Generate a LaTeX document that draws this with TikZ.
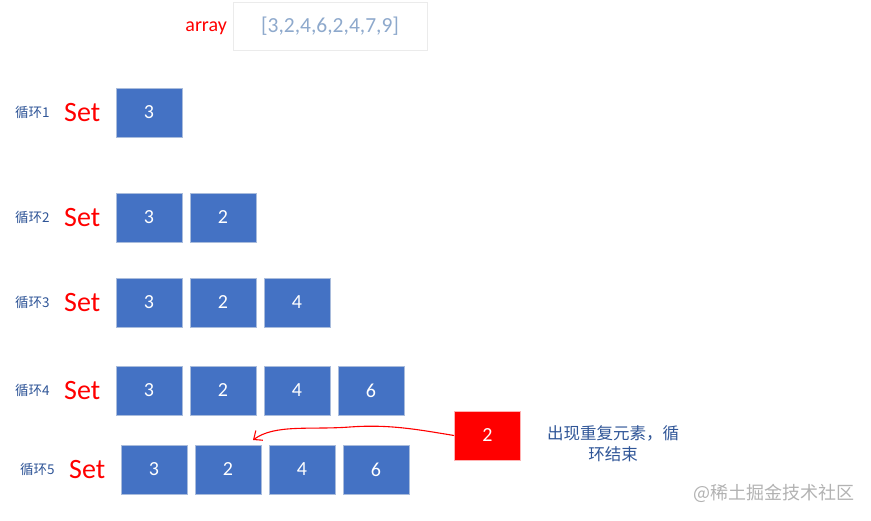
\documentclass[tikz,border=0pt]{standalone}
\usepackage{fontspec}
\usetikzlibrary{arrows.meta}
\setmainfont{Carlito}
\newfontfamily\cjk{Noto Sans CJK SC}
\definecolor{setblue}{HTML}{4472C4}
\definecolor{edgeblue}{HTML}{A9BCDC}
\definecolor{labelblue}{HTML}{2F5597}
\definecolor{arrtext}{HTML}{8EA9CC}
\begin{document}
\begin{tikzpicture}[
      x=1pt, y=-1pt,
      cell/.style={draw=edgeblue, line width=0.8pt, fill=setblue,
                   minimum width=66pt, minimum height=49pt, inner sep=0pt,
                   font=\fontsize{20}{20}\selectfont, text=white},
      loop/.style={anchor=west, inner sep=0pt, text=labelblue,
                   font=\cjk\fontsize{13.5}{13.5}\selectfont},
      setname/.style={anchor=west, inner sep=0pt, text=red,
                      font=\fontsize{28}{28}\selectfont}
    ]
      \useasboundingbox (0,0) rectangle (871,521);
      % input array
      \node[anchor=base east, inner sep=0pt, text=red, font=\fontsize{20}{20}\selectfont]
        (arrname) at (227,32) {array};
      \node[draw=black!8, line width=0.6pt, minimum width=194pt, minimum height=48pt,
            text=arrtext, font=\fontsize{21.5}{21.5}\selectfont]
        (arr) at (330,26) {[3,2,4,6,2,4,7,9]};
      % one row per loop
      \foreach \r/\yy/\xx in {1/112.5/0, 2/217.5/0, 3/302.5/0, 4/390.5/0, 5/469.5/5} {
        \node[loop] (loop\r) at (15+\xx,\yy) {循环\r};
        \node[setname] (set\r) at (64+\xx,\yy) {Set};
        \foreach \j/\v in {1/3, 2/2, 3/4, 4/6} {
          \ifnum\j>\r\relax\else
            \node[cell] (c\r\j) at (149+\xx+74*\j-74,\yy) {\v};
          \fi
        }
      }
      % repeated element
      \node[cell, fill=red, draw=red!30] (dup) at (487.5,435.5) {2};
      \coordinate (hit) at (253,440);
      \draw[red, line width=1.1pt, -{Straight Barb[length=7pt,width=12pt]}]
        (dup.west) ..controls (420,430) and (390,424) .. (350,427)
        ..controls (310,430) and (275,424) .. (hit);
      \node[text=labelblue, align=center, font=\cjk\fontsize{16.5}{21}\selectfont]
        (note) at (613,443.5) {出现重复元素，循\\环结束};
      \node[anchor=east, inner sep=0pt, text=black!30, font=\cjk\fontsize{18}{18}\selectfont]
        (mark) at (855,493) {@稀土掘金技术社区};
    \end{tikzpicture}
\end{document}
